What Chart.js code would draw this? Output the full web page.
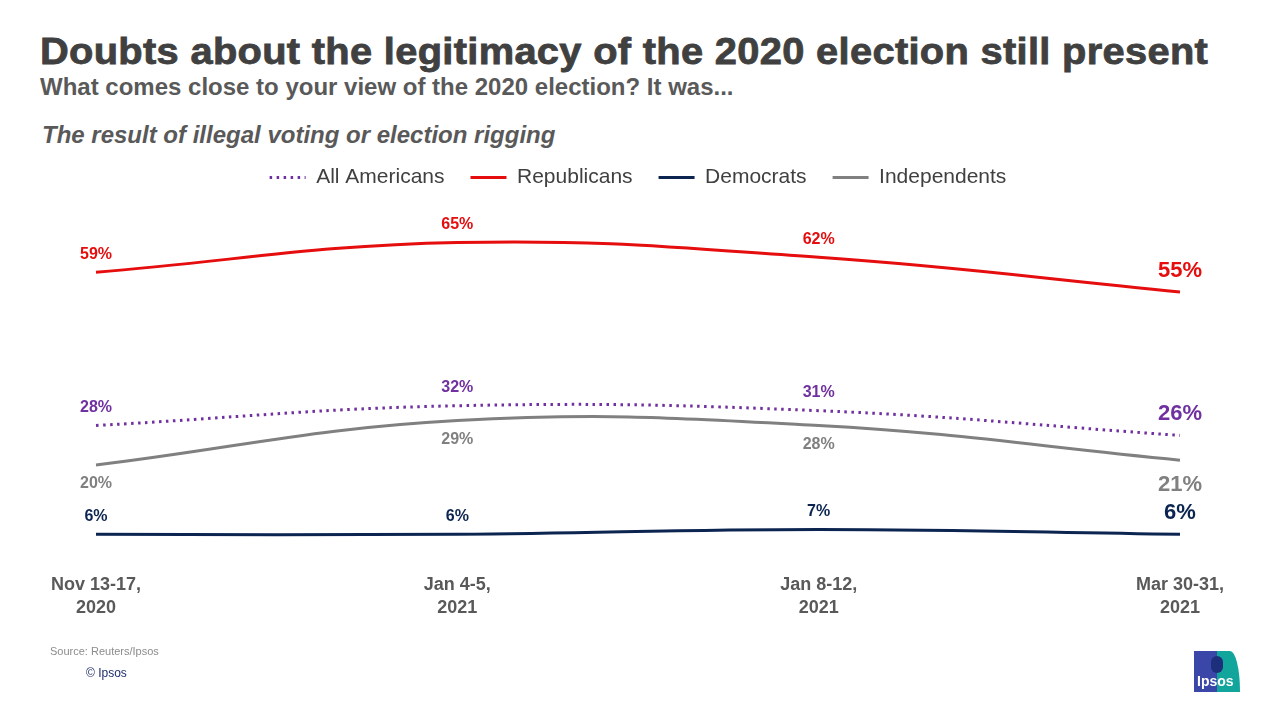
<!DOCTYPE html>
<html>
<head>
<meta charset="utf-8">
<script src="https://cdn.jsdelivr.net/npm/chart.js@4/dist/chart.umd.min.js"></script>
<style>
    body { margin: 0; background: #ffffff; font-family: "Liberation Sans", Arial, sans-serif; }
    #wrap { position: relative; width: 1280px; height: 720px; overflow: hidden; }
    #grafico { position: absolute; left: 0; top: 0; }
    .txt { position: absolute; white-space: nowrap; line-height: 1; }
    #titulo { left: 40px; top: 33px; font-size: 37px; font-weight: bold; color: #404040; letter-spacing: 0.3px;
              -webkit-text-stroke: 0.8px #404040; transform: scaleX(1.076); transform-origin: left top; }
    #sub { left: 40px; top: 75px; font-size: 24px; font-weight: bold; color: #595959; }
    #sub2 { left: 42px; top: 123px; font-size: 24px; font-weight: bold; font-style: italic; color: #595959; }
    #fonte { left: 50px; top: 646px; font-size: 11px; color: #8c8c8c; }
    #copy { left: 86px; top: 667px; font-size: 12px; color: #1f2d6b; }
    #logo { position: absolute; left: 1194px; top: 651px; width: 46px; height: 41px;
            background: linear-gradient(90deg, #3a46a8 0 50%, #11a59c 50% 100%);
            border-top-right-radius: 10px 40px; }
    #logo span { position: absolute; left: 3px; bottom: 3px; font-size: 14px; font-weight: bold; color: #ffffff; }
    #logo i { position: absolute; left: 17px; top: 5px; width: 12px; height: 17px; border-radius: 6px; background: #1d2f7a; }
</style>
</head>
<body>
<div id="wrap">
    <div class="txt" id="titulo">Doubts about the legitimacy of the 2020 election still present</div>
    <div class="txt" id="sub">What comes close to your view of the 2020 election? It was...</div>
    <div class="txt" id="sub2">The result of illegal voting or election rigging</div>
    <canvas id="grafico" width="1280" height="720"></canvas>
    <div class="txt" id="fonte">Source: Reuters/Ipsos</div>
    <div class="txt" id="copy">© Ipsos</div>
    <div id="logo"><i></i><span>Ipsos</span></div>
</div>
<script>
const periodos = [['Nov 13-17,', '2020'], ['Jan 4-5,', '2021'], ['Jan 8-12,', '2021'], ['Mar 30-31,', '2021']];
const todos = [28, 32, 31, 26];
const republicanos = [59, 65, 62, 55];
const democratas = [6, 6, 7, 6];
const independentes = [20, 29, 28, 21];

const pontilhado = [2.5, 4.5];

// rotulos de valor acima/abaixo de cada ponto
const rotulos = {
    id: 'rotulos',
    afterDatasetsDraw(chart) {
        const ctx = chart.ctx;
        chart.data.datasets.forEach((ds, i) => {
            const meta = chart.getDatasetMeta(i);
            meta.data.forEach((pt, j) => {
                const ultimo = j === ds.data.length - 1;
                ctx.save();
                ctx.fillStyle = ds.borderColor;
                ctx.font = ultimo ? 'bold 22px "Liberation Sans", Arial' : 'bold 16px "Liberation Sans", Arial';
                ctx.textAlign = 'center';
                ctx.textBaseline = 'middle';
                let dy = ds.rotuloAbaixo ? 19 : -18;
                if (ultimo) dy = ds.rotuloAbaixo ? 25 : -21;
                ctx.fillText(ds.data[j] + '%', pt.x, pt.y + dy);
                ctx.restore();
            });
        });
    },
    // marcador pontilhado da legenda (All Americans)
    afterDraw(chart) {
        const caixa = chart.legend.legendHitBoxes[0];
        if (!caixa) return;
        const ctx = chart.ctx;
        const y = caixa.top + caixa.height / 2;
        ctx.save();
        ctx.strokeStyle = chart.data.datasets[0].borderColor;
        ctx.lineWidth = 3;
        ctx.setLineDash(pontilhado);
        ctx.beginPath();
        ctx.moveTo(caixa.left, y);
        ctx.lineTo(caixa.left + 36, y);
        ctx.stroke();
        ctx.restore();
    }
};

new Chart(document.getElementById('grafico'), {
    type: 'line',
    data: {
        labels: periodos,
        datasets: [
            { label: 'All Americans', data: todos, borderColor: '#7030a0', borderWidth: 3, borderDash: pontilhado, rotuloAbaixo: false },
            { label: 'Republicans', data: republicanos, borderColor: '#e50d0d', borderWidth: 3, rotuloAbaixo: false },
            { label: 'Democrats', data: democratas, borderColor: '#0b2550', borderWidth: 3, rotuloAbaixo: false },
            { label: 'Independents', data: independentes, borderColor: '#808080', borderWidth: 3, rotuloAbaixo: true }
        ]
    },
    options: {
        responsive: false,
        animation: false,
        layout: { padding: { left: 96, right: 100, top: 141, bottom: 99 } },
        elements: {
            line: { tension: 0.4, fill: false },
            point: { radius: 0 }
        },
        scales: {
            x: {
                offset: false,
                grid: { display: false },
                border: { display: false },
                ticks: {
                    color: '#595959',
                    padding: 2,
                    maxRotation: 0,
                    font: { family: '"Liberation Sans", Arial', size: 18, weight: 'bold', lineHeight: 1.25 }
                }
            },
            y: { display: false, min: 0, max: 74 }
        },
        plugins: {
            tooltip: { enabled: false },
            legend: {
                position: 'top',
                labels: {
                    usePointStyle: true,
                    pointStyle: 'line',
                    pointStyleWidth: 36,
                    padding: 26,
                    color: '#404040',
                    font: { family: '"Liberation Sans", Arial', size: 21 },
                    generateLabels(chart) {
                        const itens = Chart.defaults.plugins.legend.labels.generateLabels(chart);
                        itens[0].strokeStyle = 'rgba(0,0,0,0)';
                        return itens;
                    }
                }
            }
        }
    },
    plugins: [rotulos]
});
</script>
</body>
</html>
